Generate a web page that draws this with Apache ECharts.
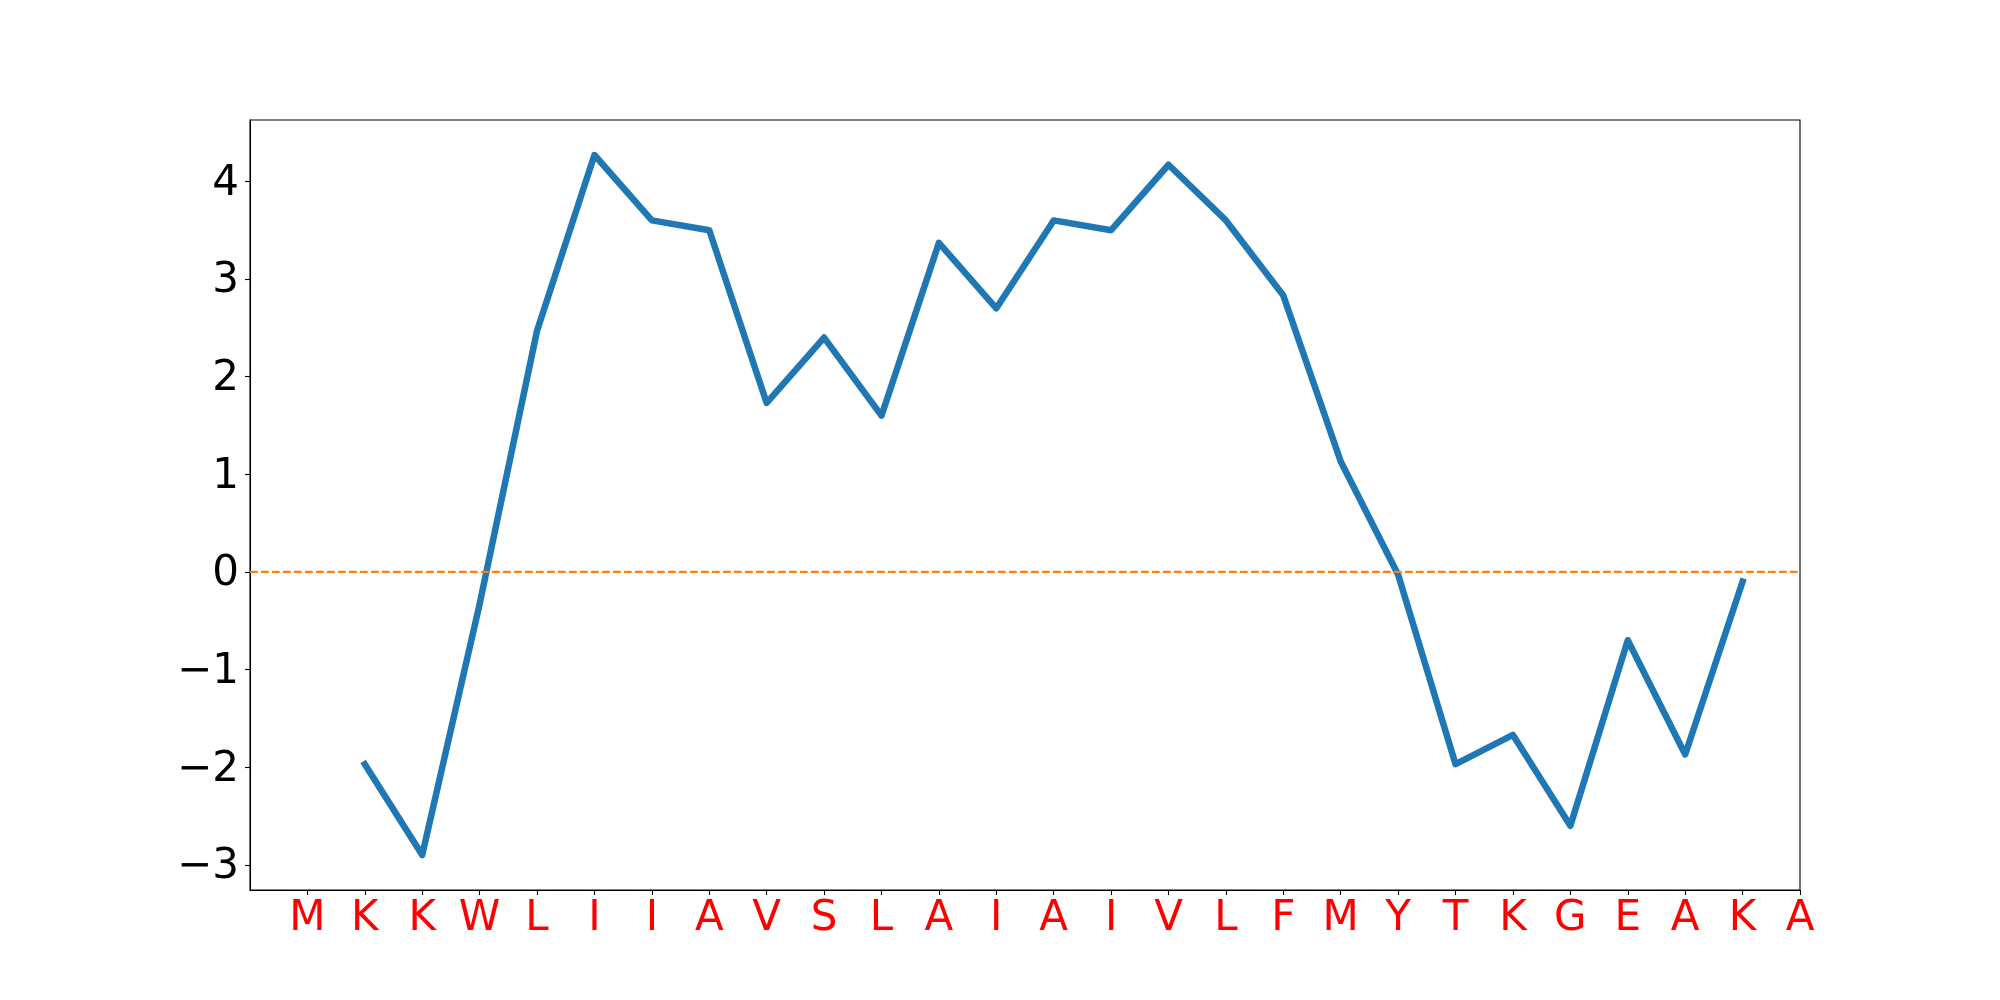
<!DOCTYPE html>
<html>
<head>
<meta charset="utf-8">
<script src="https://cdn.jsdelivr.net/npm/echarts@6/dist/echarts.min.js"></script>
<style>
  html, body { margin: 0; padding: 0; background: #ffffff; }
  #chart { width: 2000px; height: 1000px; }
</style>
</head>
<body>
<div id="chart"></div>
<script>
// Residue sequence along the x axis (tick positions 1..27)
const residues = ['M','K','K','W','L','I','I','A','V','S','L','A','I','A','I','V','L','F','M','Y','T','K','G','E','A','K','A'];
// Profile values, starting at residue position 2
const firstPosition = 2;
const profileValues = [-1.97, -2.9, -0.33, 2.47, 4.27, 3.6, 3.5, 1.73, 2.4, 1.6, 3.37, 2.7, 3.6, 3.5, 4.17, 3.6, 2.83, 1.13, -0.03, -1.97, -1.67, -2.6, -0.7, -1.87, -0.1];
// Y tick labels
const yTicks = [-3, -2, -1, 0, 1, 2, 3, 4];
// Reference (zero) line level
const refLevel = 0;

const xTicks = residues.map((_, i) => i + 1);
const lineData = profileValues.map((v, i) => [firstPosition + i, v]);
const vMin = Math.min(...profileValues), vMax = Math.max(...profileValues);
const pad = (vMax - vMin) * 0.05;

const chart = echarts.init(document.getElementById('chart'), null, { renderer: 'canvas' });
chart.setOption({
  animation: false,
  backgroundColor: '#ffffff',
  grid: { left: 250, right: 200, top: 120, bottom: 110, show: true, borderColor: '#000000', borderWidth: 1.1, backgroundColor: 'transparent' },
  xAxis: {
    type: 'value', min: 0, max: residues.length,
    axisLine: { show: true, onZero: false, lineStyle: { color: '#000000', width: 1.1 } },
    axisTick: { show: true, customValues: xTicks, length: 5, lineStyle: { color: '#000000', width: 1.1 } },
    axisLabel: {
      customValues: xTicks, formatter: v => residues[Math.round(v) - 1] || '',
      color: '#ff0000', fontSize: 42, fontFamily: 'DejaVu Sans', margin: 8
    },
    splitLine: { show: false }
  },
  yAxis: {
    type: 'value', min: vMin - pad, max: vMax + pad,
    axisLine: { show: true, onZero: false, lineStyle: { color: '#000000', width: 1.1 } },
    axisTick: { show: true, customValues: yTicks, length: 5, lineStyle: { color: '#000000', width: 1.1 } },
    axisLabel: {
      customValues: yTicks,
      formatter: v => '{t|' + (v < 0 ? '\u2212' + Math.abs(v) : String(v)) + '}',
      color: '#000000', fontSize: 42, fontFamily: 'DejaVu Sans', margin: 11,
      rich: { t: { color: '#000000', fontSize: 42, fontFamily: 'DejaVu Sans', padding: [5, 0, 0, 0] } }
    },
    splitLine: { show: false }
  },
  series: [
    {
      type: 'line', data: lineData, showSymbol: false, symbol: 'none',
      lineStyle: { color: '#1f77b4', width: 6.5, cap: 'square', join: 'round' },
      z: 2
    },
    {
      type: 'line', data: [[0, refLevel], [residues.length, refLevel]], showSymbol: false, symbol: 'none',
      lineStyle: { color: '#ff7f0e', width: 2.1, type: [7.7, 3.3] },
      z: 3
    }
  ]
});
</script>
</body>
</html>
